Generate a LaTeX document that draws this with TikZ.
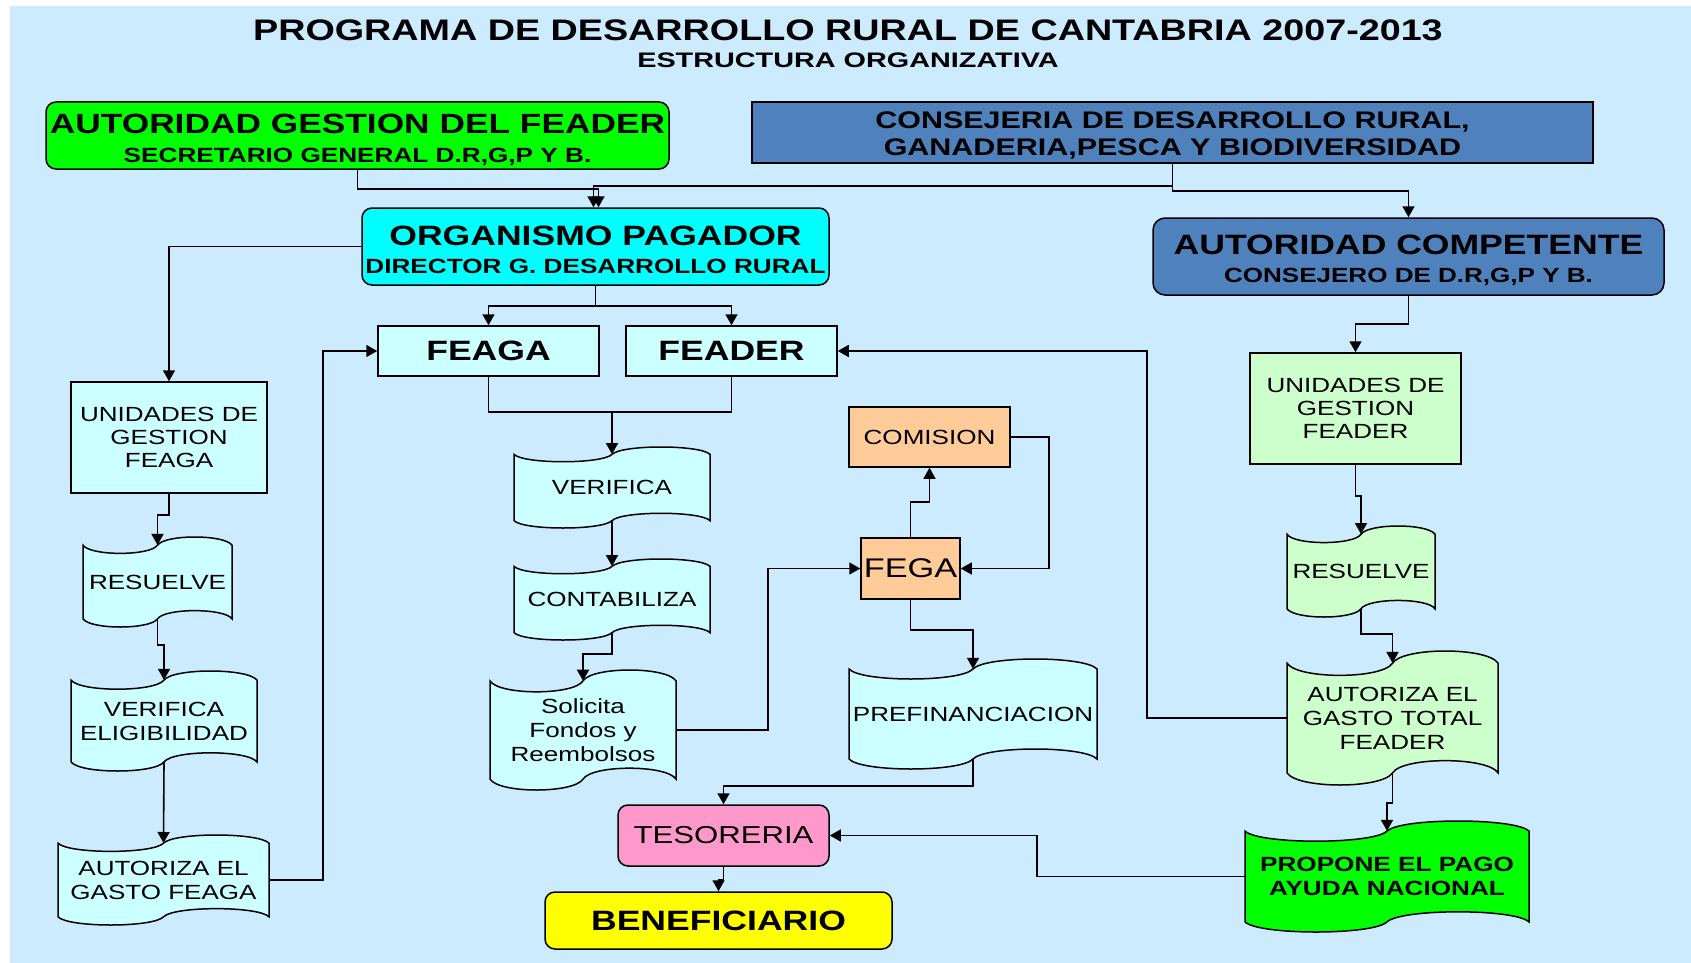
\documentclass[tikz,border=0pt]{standalone}
\usepackage{fontspec}
\setmainfont{Liberation Sans}[FakeStretch=1.27]
\usetikzlibrary{arrows.meta}
\definecolor{bgblue}{HTML}{CCEBFF}
\definecolor{steel}{HTML}{4F81BD}
\definecolor{lcyan}{HTML}{CCFFFF}
\definecolor{lgreen}{HTML}{CCFFCC}
\definecolor{cpeach}{HTML}{FFCC99}
\definecolor{cpink}{HTML}{FF99CC}
\definecolor{cgreen}{HTML}{00FF00}
\definecolor{ccyan}{HTML}{00FFFF}
\definecolor{cyellow}{HTML}{FFFF00}
\newcommand\fs[2]{\fontsize{#1}{#2}\selectfont}
\newcommand\lift[1]{\rule{0pt}{#1pt}}
\newcommand\bnode[7]{%
  \node[#1, minimum width={(#5-#3)*1pt}, minimum height={(#6-#4)*1pt}] (#2) at ({(#3+#5)/2},{(#4+#6)/2}) {#7};}
\newcommand\tape[7]{%
  \pgfmathsetmacro\tA{(#5-#3)/11}%
  \pgfmathsetmacro\tK{\tA*4/3}%
  \pgfmathsetmacro\tL{(#4-#2)/2}%
  \path[tapeline, fill=#6] (#2,#3+\tA) .. controls (#2+0.1*\tL,#3+\tA+\tK) and (#2+0.9*\tL,#3+\tA+\tK) .. (#2+\tL,#3+\tA)
     .. controls (#2+1.1*\tL,#3+\tA-\tK) and (#4-0.1*\tL,#3+\tA-\tK) .. (#4,#3+\tA)
     -- (#4,#5-\tA) .. controls (#4-0.1*\tL,#5-\tA-\tK) and (#4-0.9*\tL,#5-\tA-\tK) .. (#4-\tL,#5-\tA)
     .. controls (#4-1.1*\tL,#5-\tA+\tK) and (#2+0.1*\tL,#5-\tA+\tK) .. (#2,#5-\tA) -- cycle;
  \node[tapetext, minimum width={(#4-#2)*1pt}, minimum height={(#5-#3-2*\tA)*1pt}] (#1) at ({(#2+#4)/2},{(#3+#5)/2}) {#7};}
\tikzset{
  box/.style={draw=black, line width=1.5pt, inner sep=0pt, align=center},
  rbox/.style={box, rounded corners=10pt},
  tapeline/.style={draw=black, line width=1.5pt},
  tapetext/.style={inner sep=0pt, align=center, font=\fs{20.5}{24}},
  conn/.style={draw=black, line width=1.6pt},
  arr/.style={conn, -{Triangle[length=11pt,width=12pt]}},
}
\begin{document}
\begin{tikzpicture}[x=1pt, y=-1pt]
\useasboundingbox (0,0) rectangle (1691,963);
\fill[bgblue] (10,6) rectangle (1691,963);
% titles
\node[inner sep=0pt, font=\fs{29.7}{34}\bfseries] (title) at (848,30.5) {PROGRAMA DE DESARROLLO RURAL DE CANTABRIA 2007-2013};
\node[inner sep=0pt, font=\fs{21}{24}\bfseries] (subtitle) at (848,60) {\scalebox{1.08}[1]{ESTRUCTURA ORGANIZATIVA}};
% top boxes
\bnode{rbox, fill=cgreen, font=\fs{20.6}{29}\bfseries}{agf}{46}{102}{669}{169}{{\fs{27.8}{29}\lift{28}AUTORIDAD GESTION DEL FEADER}\\SECRETARIO GENERAL D.R,G,P Y B.}
\bnode{box, fill=steel, font=\fs{24}{27}\bfseries}{cons}{752}{102}{1593}{163}{\lift{23.5}CONSEJERIA DE DESARROLLO RURAL,\\GANADERIA,PESCA Y BIODIVERSIDAD}
\bnode{rbox, fill=ccyan, font=\fs{20.6}{28}\bfseries}{org}{362}{208}{829}{285}{{\fs{28}{28}\lift{25.5}ORGANISMO PAGADOR}\\DIRECTOR G. DESARROLLO RURAL}
\bnode{rbox, rounded corners=12pt, fill=steel, font=\fs{20.5}{28}\bfseries}{ac}{1153}{218}{1664}{295}{{\fs{28}{28}\lift{27}AUTORIDAD COMPETENTE}\\CONSEJERO DE D.R,G,P Y B.}
% left column
\bnode{box, fill=lcyan, font=\fs{20.5}{23}}{ugfeaga}{71}{382}{267}{493}{UNIDADES DE\\GESTION\\FEAGA}
\tape{resA}{83}{537}{232}{627}{lcyan}{RESUELVE}
\tape{verA}{71}{671}{257}{771}{lcyan}{VERIFICA\\ELIGIBILIDAD}
\tape{autA}{58}{835}{269}{925}{lcyan}{AUTORIZA EL\\GASTO FEAGA}
% middle
\bnode{box, fill=lcyan, font=\fs{28}{30}\bfseries}{feaga}{378}{326}{599}{376}{FEAGA}
\bnode{box, fill=lcyan, font=\fs{28}{30}\bfseries}{feader}{626}{326}{837}{376}{FEADER}
\tape{verB}{514}{447}{710}{528}{lcyan}{VERIFICA}
\tape{conB}{514}{559}{710}{640}{lcyan}{CONTABILIZA}
\tape{sol}{490}{670}{676}{790}{lcyan}{Solicita\\Fondos y\\Reembolsos}
\bnode{box, fill=cpeach, font=\fs{20.5}{24}}{comision}{849}{407}{1010}{467}{COMISION}
\bnode{box, fill=cpeach, font=\fs{27}{30}}{fega}{861}{538}{960}{599}{FEGA}
\tape{pref}{849}{659}{1097}{769}{lcyan}{PREFINANCIACION}
\bnode{rbox, fill=cpink, font=\fs{24.5}{28}}{tes}{618}{805}{829}{866}{TESORERIA}
\bnode{rbox, fill=cyellow, font=\fs{28}{30}\bfseries}{benef}{545}{892}{892}{949}{BENEFICIARIO}
% right column
\bnode{box, fill=lgreen, font=\fs{20.5}{23}}{ugfeader}{1250}{353}{1461}{464}{UNIDADES DE\\GESTION\\FEADER}
\tape{resB}{1287}{526}{1435}{617}{lgreen}{RESUELVE}
\tape{autB}{1287}{651}{1498}{785}{lgreen}{AUTORIZA EL\\GASTO TOTAL\\FEADER}
\tape{prop}{1245}{821}{1529}{932}{cgreen}{\fs{20.6}{24}\bfseries PROPONE EL PAGO\\\fs{20.6}{24}\bfseries AYUDA NACIONAL}
% connectors
\draw[arr] (agf.south) -- ++(0,19) -| ([xshift=3pt]org.north);
\draw[arr] (cons.south) -- ++(0,22) -| ([xshift=-2pt]org.north);
\draw[arr] (cons.south) -- ++(0,27) -| (ac.north);
\draw[arr] (org.west) -| (ugfeaga.north);
\draw[arr] (org.south) -- ++(0,20) -| (feaga.north);
\draw[arr] (org.south) -- ++(0,20) -| (feader.north);
\coordinate (j1) at (612,412);
\draw[conn] (feaga.south) |- (j1) -| (feader.south);
\draw[arr] (j1) -- (verB.north);
\draw[arr] (ugfeaga.south) -- ++(0,21) -| (resA.north);
\draw[arr] (resA.south) -- ++(0,26) -| (verA.north);
\draw[arr] (verA.south) -- (autA.north);
\draw[arr] (autA.east) -- ++(54,0) |- (feaga.west);
\draw[arr] (verB.south) -- (conB.north);
\draw[arr] (conB.south) -- ++(0,21) -| (sol.north);
\draw[arr] (sol.east) -- ++(92,0) |- (fega.west);
\draw[arr] (fega.north) -- ++(0,-35) -| (comision.south);
\draw[arr] (comision.east) -- ++(38,0) |- (fega.east);
\draw[arr] (fega.south) -- ++(0,30) -| (pref.north);
\draw[arr] (pref.south) -- ++(0,27) -| (tes.north);
\draw[arr] (tes.south) -- ++(0,13) -| (benef.north);
\draw[arr] (prop.west) -- ++(-208,0) |- (tes.east);
\draw[arr] (autB.west) -- ++(-140,0) |- (feader.east);
\draw[arr] (ac.south) -- ++(0,28) -| (ugfeader.north);
\draw[arr] (ugfeader.south) -- ++(0,31) -| (resB.north);
\draw[arr] (resB.south) -- ++(0,25) -| (autB.north);
\draw[arr] (autB.south) -- ++(0,30) -| (prop.north);
\end{tikzpicture}
\end{document}
